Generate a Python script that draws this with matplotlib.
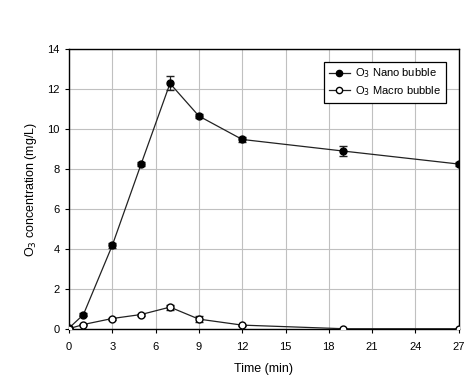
import matplotlib
matplotlib.use("Agg")
import matplotlib.pyplot as plt
from matplotlib.lines import Line2D

plt.rcParams['font.family'] = ['Liberation Sans', 'DejaVu Sans']

time = [0, 1, 3, 5, 7, 9, 12, 19, 27]
nano = [0.05, 0.72, 4.18, 8.25, 12.28, 10.65, 9.48, 8.9, 8.25]
nano_err = [0.03, 0.08, 0.12, 0.1, 0.35, 0.08, 0.12, 0.24, 0.1]
macro = [0.02, 0.23, 0.53, 0.73, 1.1, 0.5, 0.2, 0.02, 0.02]
macro_err = [0.0, 0.03, 0.05, 0.05, 0.12, 0.15, 0.03, 0.0, 0.0]
xticks = [0, 3, 6, 9, 12, 15, 18, 21, 24, 27]
yticks = [0, 2, 4, 6, 8, 10, 12, 14]

fig = plt.figure(figsize=(4.72, 3.77), dpi=100)
ax = fig.add_axes([0.146, 0.127, 0.826, 0.743])

ax.errorbar(time, nano, yerr=nano_err, fmt='-o', color='#222222', mfc='black',
            mec='black', ms=5, lw=0.9, elinewidth=0.9, capsize=3, zorder=3)
ax.errorbar(time, macro, yerr=macro_err, fmt='-o', color='#222222', mfc='white',
            mec='black', ms=5, lw=0.9, elinewidth=0.9, capsize=3, zorder=3)

ax.set_xlim(0, 27)
ax.set_ylim(0, 14)
ax.set_xticks(xticks)
ax.set_yticks(yticks)
ax.grid(True, color='#c0c0c0', lw=0.8)
ax.set_axisbelow(True)
ax.tick_params(labelsize=8, length=3, width=0.8)
ax.tick_params(axis='x', pad=6)
for s in ax.spines.values():
    s.set_linewidth(1.0)

ax.set_xlabel('Time (min)', fontsize=9, labelpad=8)
ax.set_ylabel('O$_3$ concentration (mg/L)', fontsize=9, labelpad=6)

handles = [
    Line2D([], [], color='#222222', lw=0.9, marker='o', ms=4.5, mfc='black', mec='black'),
    Line2D([], [], color='#222222', lw=0.9, marker='o', ms=4.5, mfc='white', mec='black'),
]
labels = ['O$_3$ Nano bubble', 'O$_3$ Macro bubble']
leg = ax.legend(handles, labels, loc='upper left', bbox_to_anchor=(0.654, 0.955),
                fontsize=8, frameon=True, fancybox=False, edgecolor='black',
                framealpha=1, handlelength=1.9, borderpad=0.45, labelspacing=0.3,
                handletextpad=0.45, borderaxespad=0)
leg.get_frame().set_linewidth(0.9)

fig.savefig('out.png', dpi=100)
